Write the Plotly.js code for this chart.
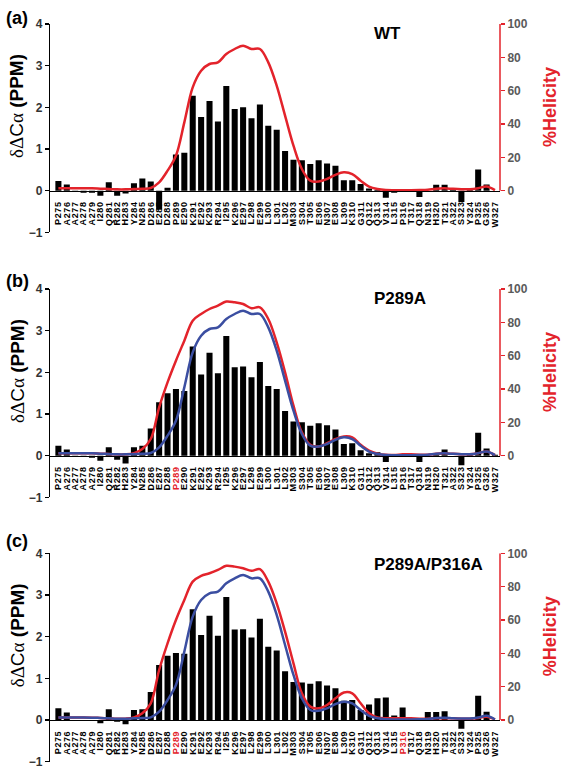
<!DOCTYPE html>
<html>
<head>
<meta charset="utf-8">
<script src="https://cdn.plot.ly/plotly-3.0.1.min.js"></script>
<style>html,body{margin:0;padding:0;background:#fff;}#chart{width:566px;height:771px;}</style>
</head>
<body>
<div id="chart"></div>
<script>
const residues = ["P275","A276","A277","A278","A279","I280","Q281","R282","H283","Y284","N285","D286","E287","D288","P289","E290","K291","E292","K293","R294","I295","K296","E297","L298","E299","L300","L301","L302","M303","S304","T305","E306","N307","E308","L309","K310","G311","Q312","Q313","V314","L315","P316","T317","Q318","N319","H320","T321","A322","S323","Y324","P325","G326","W327"];

const shiftWT = [0.23,0.15,-0.03,-0.05,-0.05,-0.12,0.20,-0.12,-0.07,0.18,0.29,0.22,-0.45,0.07,0.87,0.91,2.28,1.77,2.15,1.66,2.51,1.96,2.00,1.74,2.07,1.56,1.46,0.95,0.74,0.73,0.64,0.73,0.65,0.60,0.25,0.25,0.16,0.05,0.02,-0.17,-0.05,0.00,0.00,-0.15,0.00,0.14,0.14,0.02,-0.27,0.02,0.51,0.15,0.00];
const shiftP289A = [0.24,0.15,-0.03,-0.03,-0.05,-0.12,0.20,-0.10,-0.19,0.20,0.24,0.65,1.28,1.50,1.60,1.55,2.62,1.95,2.47,1.98,2.87,2.12,2.14,1.88,2.25,1.67,1.60,1.07,0.82,0.80,0.72,0.78,0.73,0.63,0.28,0.30,0.13,0.06,0.08,-0.15,0.00,0.02,0.00,-0.15,0.00,0.02,0.15,0.00,-0.23,0.02,0.55,0.17,0.02];
const shiftDouble = [0.28,0.18,0.00,0.00,0.00,-0.08,0.26,-0.04,-0.10,0.24,0.26,0.67,1.32,1.54,1.61,1.59,2.66,2.04,2.50,2.02,2.95,2.17,2.18,1.98,2.43,1.76,1.67,1.17,0.91,0.90,0.87,0.93,0.83,0.76,0.46,0.48,0.24,0.37,0.52,0.54,0.11,0.30,0.00,0.00,0.19,0.19,0.21,0.00,-0.21,0.04,0.58,0.20,0.00];

const helixWT = [1.5,1.5,1.5,1.5,1.4,1.2,1.0,0.8,0.8,1.0,1.2,1.6,5,12,21,41,62,72,76,77,82,85,87,85,85,77,63,45,27,13,6,5.5,7,9.5,11,10,6,2.5,1,0.4,0.3,0.3,0.3,0.4,0.6,1.2,1.4,1.1,0.9,0.9,1.5,2.5,0.3];
const helixP289A = [1.5,1.5,1.5,1.5,1.4,1.2,1.0,0.8,0.8,1.5,4,10,29,44,57,69,81,85,88,90,92.5,92,91,88.5,89,82,68,50,30,14,6.5,5.5,7.5,10,11.5,11,6.5,3,1.2,0.5,0.4,0.8,0.8,0.6,0.6,1.2,1.4,1.1,0.9,0.9,1.5,2.5,0.3];
const helixDouble = [1.5,1.5,1.5,1.5,1.4,1.2,1.0,0.8,0.8,1.5,4,10,30,46,60,72,83,86.5,88,90,92.5,92,91,89.5,90.5,83,70,53,34,16,8,7,9,13,16.5,16,10,4,1.5,1,1,1,1,0.8,0.8,1,1,1,0.8,0.8,1.2,2,0.3];

const panelLetters = ["(a)","(b)","(c)"];
const panelTitles = ["WT","P289A","P289A/P316A"];
const mutatedResidues = [[], ["P289"], ["P289","P316"]];
const leftTicks = [-1,0,1,2,3,4];
const rightTicks = [0,20,40,60,80,100];

const RED = "#e3232b", BLUE = "#3b4ea1";
const FONT = 'Arial, "Liberation Sans", sans-serif';
const W = 566, H = 771;
const fy = py => 1 - py / H;
const fx = px => px / W;
const plotLeft = 50, plotRight = 500;
const unitPx = 41.67;
const panelTops = [24, 289, 553.3];
const letterY = [17.5, 281, 540.5];

const panelBars = [shiftWT, shiftP289A, shiftDouble];
const panelRed = [helixWT, helixP289A, helixDouble];
const panelBlue = [null, helixWT, helixWT];

const data = [];
const layout = {
  width: W, height: H,
  margin: {l:0, r:0, t:0, b:0},
  paper_bgcolor: "#fff", plot_bgcolor: "rgba(0,0,0,0)",
  showlegend: false,
  font: {family: FONT, color: "#000"},
  annotations: [], shapes: [],
  bargap: 0.28
};

for (let k = 0; k < 3; k++) {
  const xs = k === 0 ? "" : String(k + 1);
  const yl = k === 0 ? "" : String(2 * k + 1);
  const yr = String(2 * k + 2);
  const top = panelTops[k];
  const bottom = top + 5 * unitPx;
  const zeroPx = top + 4 * unitPx;

  const ticktext = residues.map(r => mutatedResidues[k].includes(r)
      ? '<span style="letter-spacing:0.6px;color:' + RED + '">' + r + '</span>'
      : '<span style="letter-spacing:0.6px">' + r + '</span>');

  layout["xaxis" + xs] = {
    domain: [fx(plotLeft), fx(plotRight)],
    range: [-1, 52.6],
    type: "category",
    anchor: "free", position: fy(zeroPx),
    showline: true, linecolor: "#000", linewidth: 1.2,
    showgrid: false, zeroline: false,
    ticks: "", tickmode: "array", tickvals: residues, ticktext: ticktext,
    tickangle: -90, ticklabelstandoff: 6,
    tickfont: {family: FONT, size: 9, weight: "bold", color: "#000"},
    fixedrange: true
  };
  layout["yaxis" + yl] = {
    domain: [fy(bottom), fy(top)],
    range: [-1, 4], anchor: "x" + xs,
    showline: true, linecolor: "#000", linewidth: 1.2,
    showgrid: false, zeroline: false,
    ticks: "outside", ticklen: 4, tickcolor: "#000", tickwidth: 1.2,
    tickvals: leftTicks,
    tickfont: {family: FONT, size: 12, weight: "bold", color: "#333"},
    fixedrange: true
  };
  layout["yaxis" + yr] = {
    overlaying: "y" + yl, side: "right", anchor: "x" + xs,
    range: [-25, 100],
    showline: false, showgrid: false, zeroline: false,
    ticks: "outside", ticklen: 4, tickcolor: RED, tickwidth: 1.5,
    tickvals: rightTicks,
    tickfont: {family: FONT, size: 12, weight: "bold", color: "#5a5a5a"},
    fixedrange: true
  };
  layout.shapes.push({type: "line", xref: "paper", yref: "y" + yr,
    x0: fx(plotRight), x1: fx(plotRight), y0: 0, y1: 100,
    line: {color: RED, width: 1.5}});

  data.push({type: "bar", x: residues, y: panelBars[k], xaxis: "x" + xs, yaxis: "y" + yl,
    marker: {color: "#000", line: {width: 0}}, hoverinfo: "skip"});
  data.push({type: "scatter", mode: "lines", x: residues, y: panelRed[k], xaxis: "x" + xs, yaxis: "y" + yr,
    line: {color: RED, width: 2.5, shape: "spline", smoothing: 1}, hoverinfo: "skip"});
  if (panelBlue[k]) {
    data.push({type: "scatter", mode: "lines", x: residues, y: panelBlue[k], xaxis: "x" + xs, yaxis: "y" + yr,
      line: {color: BLUE, width: 2.5, shape: "spline", smoothing: 1}, hoverinfo: "skip"});
  }

  layout.annotations.push({xref: "paper", yref: "paper", x: fx(4), y: fy(letterY[k]),
    xanchor: "left", yanchor: "middle", showarrow: false, text: panelLetters[k],
    font: {family: FONT, size: 18, weight: "bold", color: "#000"}});
  layout.annotations.push({xref: "paper", yref: "paper", x: fx(372), y: fy(top + 10 + (k === 2 ? 1 : 0)),
    xanchor: "left", yanchor: "middle", showarrow: false, text: panelTitles[k],
    font: {family: FONT, size: 17, weight: "bold", color: "#000"}});
  layout.annotations.push({xref: "paper", yref: "paper", x: fx(17), y: fy(top + 82),
    xanchor: "center", yanchor: "middle", showarrow: false, textangle: -90,
    text: '<span style="font-family:\'Liberation Serif\',serif;font-weight:normal">δΔ</span><span style="font-weight:normal">C</span><span style="font-family:\'Liberation Serif\',serif;font-weight:normal">α</span> <b>(PPM)</b>',
    font: {family: FONT, size: 19, color: "#000"}});
  layout.annotations.push({xref: "paper", yref: "paper", x: fx(550), y: fy(top + 83),
    xanchor: "center", yanchor: "middle", showarrow: false, textangle: -90,
    text: "%Helicity",
    font: {family: FONT, size: 18, weight: "bold", color: RED}});
}

Plotly.newPlot("chart", data, layout, {displayModeBar: false, staticPlot: true});
</script>
</body>
</html>
